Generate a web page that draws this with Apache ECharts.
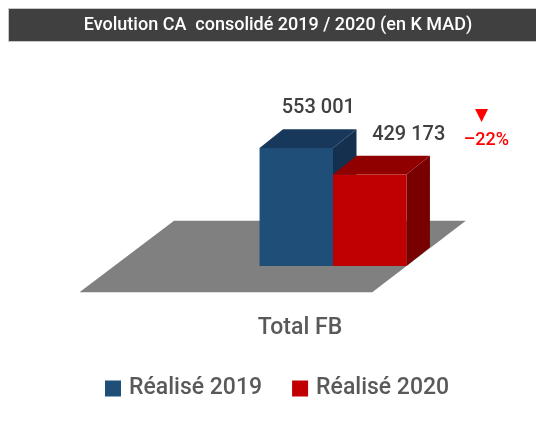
<!DOCTYPE html>
<html>
<head>
<meta charset="utf-8">
<script src="https://cdn.jsdelivr.net/npm/echarts@6/dist/echarts.min.js"></script>
<style>html,body{margin:0;padding:0;background:#fff}#c{width:536px;height:421px}</style>
</head>
<body>
<div id="c"></div>
<script>
const titleText = 'Evolution CA  consolidé 2019 / 2020 (en K MAD)';
const categories = ['Total FB'];
const seriesNames = ['Réalisé 2019', 'Réalisé 2020'];
const values2019 = [553001];
const values2020 = [429173];

const faceColors = [
  { front: '#1F4E79', top: '#17385A', side: '#15304F' },
  { front: '#C00000', top: '#900000', side: '#780000' }
];
const labelOffsets = [[22, -40], [39, -39]];
const FONT = 'Roboto, "Noto Sans", sans-serif';

function fmt(v) { return String(v).replace(/\B(?=(\d{3})+(?!\d))/g, ' '); }
const change = Math.round((values2020[0] - values2019[0]) / values2019[0] * 100);

function cuboid(idx) {
  return function (params, api) {
    const cat = api.value(0), v = api.value(1);
    const top = api.coord([cat, v]);
    const base = api.coord([cat, 0]);
    const band = api.size([1, 0])[0];
    const w = band * 0.24;
    const x0 = base[0] - w + idx * w, x1 = x0 + w;
    const t = top[1], b = base[1];
    const dx = w * 0.32, dy = -w * 0.255;
    const c = faceColors[idx];
    const children = [
      { type: 'polygon', shape: { points: [[x1, t], [x1 + dx, t + dy], [x1 + dx, b + dy], [x1, b]] }, style: { fill: c.side } },
      { type: 'polygon', shape: { points: [[x0, t], [x0 + dx, t + dy], [x1 + dx, t + dy], [x1, t]] }, style: { fill: c.top } },
      { type: 'rect', shape: { x: x0, y: t, width: w, height: b - t }, style: { fill: c.front } },
      { type: 'text', x: (x0 + x1) / 2 + labelOffsets[idx][0], y: t + labelOffsets[idx][1],
        style: { text: fmt(v), fill: '#404040', font: '500 20px ' + FONT, align: 'center', verticalAlign: 'middle' } }
    ];
    if (idx === 1) {
      children.push({ type: 'text', x: x1 + 75, y: t - 59,
        style: { text: '▼', fill: '#FF0000', font: '17px "DejaVu Sans", sans-serif', align: 'center', verticalAlign: 'middle' } });
      children.push({ type: 'text', x: x1 + 80, y: t - 34,
        style: { text: '–' + Math.abs(change) + '%', fill: '#FF0000', font: '500 18px ' + FONT, align: 'center', verticalAlign: 'middle' } });
    }
    return { type: 'group', children };
  };
}

function floorItem(params, api) {
  const base = api.coord([api.value(0), 0]);
  const band = api.size([1, 0])[0];
  const s = band * 0.24 / 73;
  const cx = base[0], cy = base[1];
  return {
    type: 'polygon',
    shape: { points: [
      [cx - 158 * s, cy - 45 * s], [cx + 132 * s, cy - 45 * s],
      [cx + 39 * s, cy + 26 * s], [cx - 252 * s, cy + 26 * s]
    ] },
    style: { fill: '#808080' }
  };
}

const chart = echarts.init(document.getElementById('c'), null, { renderer: 'canvas' });
chart.setOption({
  animation: false,
  backgroundColor: '#fff',
  graphic: [
    { type: 'rect', shape: { x: 8.5, y: 8.5, width: 530, height: 33 }, style: { fill: '#404040', stroke: '#C8C8C8', lineWidth: 1 }, z: 0 },
    { type: 'text', x: 278, y: 25, style: { text: titleText, fill: '#FFFFFF', font: '500 18px ' + FONT, align: 'center', verticalAlign: 'middle' }, z: 1 }
  ],
  legend: {
    data: seriesNames,
    left: 105, top: 377, padding: 0,
    icon: 'rect', itemWidth: 16, itemHeight: 16, itemGap: 30,
    textStyle: { fontSize: 23, fontWeight: 500, fontFamily: FONT, color: '#595959', padding: [0, 0, 0, 3] }
  },
  grid: { left: 180, right: 50, top: 95.3, bottom: 155 },
  xAxis: {
    type: 'category', data: categories,
    axisLine: { show: false }, axisTick: { show: false },
    axisLabel: { margin: 51, fontSize: 23, fontWeight: 500, fontFamily: FONT, color: '#595959', padding: [0, 66, 0, 0] }
  },
  yAxis: { type: 'value', min: 0, max: 800000, show: false, splitLine: { show: false } },
  series: [
    { type: 'custom', name: 'floor', renderItem: floorItem, data: [[0, 0]], z: 1, silent: true },
    { type: 'custom', name: seriesNames[0], renderItem: cuboid(0), data: values2019.map((v, i) => [i, v]), itemStyle: { color: faceColors[0].front }, z: 2 },
    { type: 'custom', name: seriesNames[1], renderItem: cuboid(1), data: values2020.map((v, i) => [i, v]), itemStyle: { color: faceColors[1].front }, z: 3 }
  ]
});
</script>
</body>
</html>
